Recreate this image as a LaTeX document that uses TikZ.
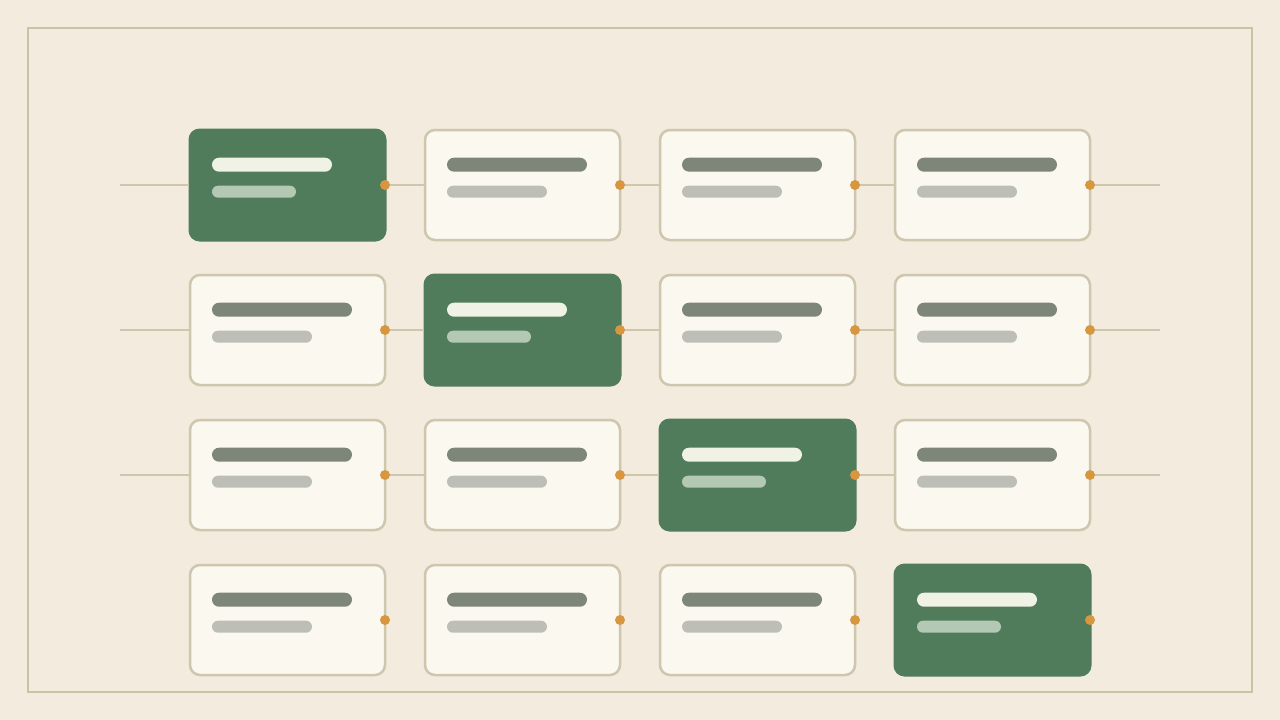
\documentclass[tikz,border=0pt]{standalone}
\usepackage{tikz}

\definecolor{paper}{HTML}{F2EBDE}
\definecolor{frame}{HTML}{C9C2A6}
\definecolor{wire}{HTML}{CFC6AE}
\definecolor{cardfill}{HTML}{FBF8F0}
\definecolor{leaf}{HTML}{507C5C}
\definecolor{inkbar}{HTML}{7D8679}
\definecolor{softbar}{HTML}{BDBFB6}
\definecolor{leafbar}{HTML}{F1F2E6}
\definecolor{leafsoft}{HTML}{B3C9B4}
\definecolor{knob}{HTML}{D8963F}

\tikzset{
  card/.style={rectangle, rounded corners=10pt, minimum width=195pt, minimum height=110pt,
    inner sep=0pt, outer sep=0pt, fill=cardfill, draw=wire, line width=2.5pt},
  hot/.style={rectangle, rounded corners=11pt, minimum width=198pt, minimum height=113pt,
    inner sep=0pt, outer sep=0pt, fill=leaf},
  bar/.style={rectangle, inner sep=0pt, outer sep=0pt, anchor=west},
  wireline/.style={draw=wire, line width=1.5pt}
}

\begin{document}
\begin{tikzpicture}[x=1pt,y=-1pt]
		\fill[paper] (0,0) rectangle (1280,720);
		\draw[frame, line width=2pt] (28,28) rectangle (1252,692);
		% cards with their two bars
		\foreach \r in {1,...,4} {
			\foreach \c in {1,...,4} {
				\ifnum\r=\c
					\node[hot] (c\r\c) at ({287.5+235*(\c-1)},{185+145*(\r-1)}) {};
					\node[bar, fill=leafbar, rounded corners=7pt, minimum width=120pt, minimum height=14pt]
						(t\r\c) at ([xshift=-75.5pt,yshift=20.3pt]c\r\c.center) {};
					\node[bar, fill=leafsoft, rounded corners=6pt, minimum width=84pt, minimum height=12pt]
						(b\r\c) at ([xshift=-75.5pt,yshift=-6.7pt]c\r\c.center) {};
				\else
					\node[card] (c\r\c) at ({287.5+235*(\c-1)},{185+145*(\r-1)}) {};
					\node[bar, fill=inkbar, rounded corners=7pt, minimum width=140pt, minimum height=14pt]
						(t\r\c) at ([xshift=-75.5pt,yshift=20.3pt]c\r\c.center) {};
					\node[bar, fill=softbar, rounded corners=6pt, minimum width=100pt, minimum height=12pt]
						(b\r\c) at ([xshift=-75.5pt,yshift=-6.7pt]c\r\c.center) {};
				\fi
			}
		}
		% connectors along the first three rows
		\foreach \r in {1,2,3} {
			\coordinate (s\r) at (120,{185+145*(\r-1)});
			\coordinate (e\r) at (1160,{185+145*(\r-1)});
			\draw[wireline] (s\r) -- (c\r1);
			\draw[wireline] (c\r1) -- (c\r2);
			\draw[wireline] (c\r2) -- (c\r3);
			\draw[wireline] (c\r3) -- (c\r4);
			\draw[wireline] (c\r4) -- (e\r);
		}
		% knobs on the right edges
		\foreach \r in {1,...,4} {
			\foreach \c in {1,...,4} {
				\fill[knob] ([xshift={\ifnum\r=\c -1.5pt\else 0pt\fi}]c\r\c.east) circle (5pt);
			}
		}
\end{tikzpicture}
\end{document}
